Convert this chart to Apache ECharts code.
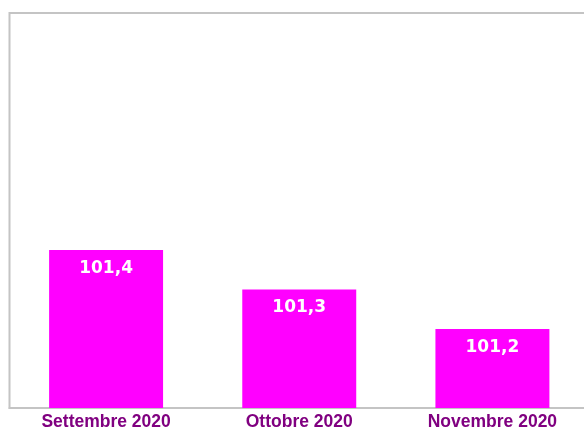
<!DOCTYPE html>
<html>
<head>
<meta charset="utf-8">
<script src="https://cdn.jsdelivr.net/npm/echarts@6/dist/echarts.min.js"></script>
<style>
  html, body { margin: 0; padding: 0; background: #fff; }
  #chart { width: 584px; height: 428px; }
</style>
</head>
<body>
<div id="chart"></div>
<script>
// dati
var mesi = ['Settembre 2020', 'Ottobre 2020', 'Novembre 2020'];
var valori = [101.4, 101.3, 101.2];

var chart = echarts.init(document.getElementById('chart'));

var option = {
    animation: false,
    grid: {
        left: 9.5,
        right: -5,
        top: 13,
        bottom: 20,
        outerBoundsMode: 'none',
        show: true,
        borderColor: '#c4c4c4',
        borderWidth: 2
    },
    xAxis: {
        type: 'category',
        data: mesi,
        axisTick: { show: false },
        axisLine: { lineStyle: { color: '#c4c4c4', width: 2 } },
        axisLabel: {
            color: '#800080',
            fontWeight: 'bold',
            fontSize: 17.5,
            fontFamily: 'Liberation Sans',
            margin: 5
        }
    },
    yAxis: {
        type: 'value',
        min: 101,
        max: 102,
        show: false,
        splitLine: { show: false }
    },
    series: [{
        type: 'bar',
        data: valori,
        barWidth: '59%',
        itemStyle: { color: '#ff00ff' },
        label: {
            show: true,
            position: 'insideTop',
            distance: 10,
            color: '#ffffff',
            fontWeight: 'bold',
            fontSize: 17,
            fontFamily: 'DejaVu Sans',
            formatter: function (p) {
                return p.value.toFixed(1).replace('.', ',');
            }
        }
    }]
};
chart.setOption(option);
</script>
</body>
</html>
